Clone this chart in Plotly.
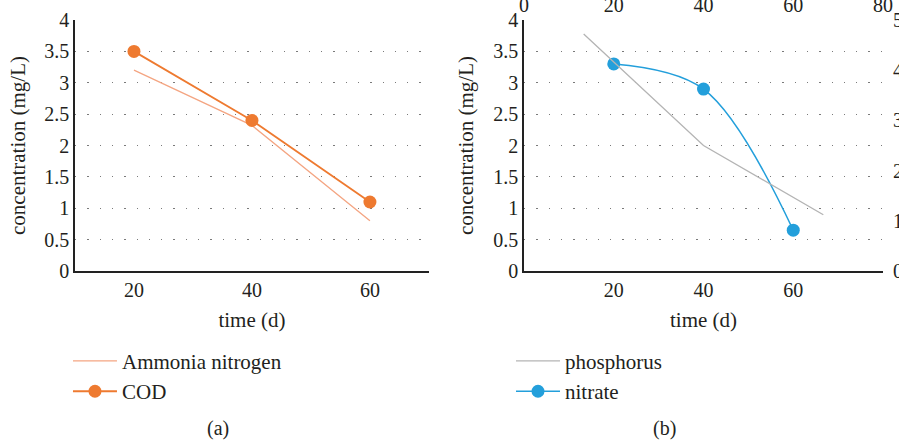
import plotly.graph_objects as go

# ---- data ----
days = [20, 40, 60]
ammonia_nitrogen = [3.2, 2.32, 0.8]
cod = [3.5, 2.4, 1.1]
nitrate = [3.3, 2.9, 0.65]
# phosphorus plotted on the secondary (top / right) axes
phos_x_top = [13.3, 40, 66.7]
phosphorus = [4.72, 2.5, 1.12]

bottom_ticks = [20, 40, 60]
top_ticks = [0, 20, 40, 60, 80]
left_ticks = [0, 0.5, 1, 1.5, 2, 2.5, 3, 3.5, 4]
left_labels = ["0", "0.5", "1", "1.5", "2", "2.5", "3", "3.5", "4"]
right_ticks = [0, 1, 2, 3, 4, 5]

FONT = "Liberation Serif"
TXT = "#231F20"
GRID = "#7a7a7a"
TICK_SIZE = 20
TITLE_SIZE = 21
LEG_SIZE = 21

fig = go.Figure()

fig.add_trace(go.Scatter(x=days, y=ammonia_nitrogen, mode="lines", name="Ammonia nitrogen",
                         line=dict(color="#F4A582", width=1.3), xaxis="x", yaxis="y", legend="legend"))
fig.add_trace(go.Scatter(x=days, y=cod, mode="lines+markers", name="COD",
                         line=dict(color="#EE7A30", width=1.8),
                         marker=dict(size=13, color="#EE7A30"), xaxis="x", yaxis="y", legend="legend"))
fig.add_trace(go.Scatter(x=phos_x_top, y=phosphorus, mode="lines", name="phosphorus",
                         line=dict(color="#B4B4B4", width=1.3), xaxis="x3", yaxis="y3", legend="legend2"))
fig.add_trace(go.Scatter(x=days, y=nitrate, mode="lines+markers", name="nitrate",
                         line=dict(color="#239FDB", width=1.5, shape="spline", smoothing=1),
                         marker=dict(size=13, color="#239FDB"), xaxis="x2", yaxis="y2", legend="legend2"))

axis_common = dict(showgrid=False, zeroline=False, ticks="", automargin=False,
                   tickfont=dict(family=FONT, size=TICK_SIZE, color=TXT))


def y_axis(standoff):
    return dict(range=[0, 4], tickvals=left_ticks, ticktext=left_labels, showgrid=True,
                gridcolor=GRID, griddash="1.3px,11px", gridwidth=1.3, zeroline=False, ticks="",
                showline=True, linecolor="#222", linewidth=1.5, automargin=False,
                tickfont=dict(family=FONT, size=TICK_SIZE, color=TXT),
                title=dict(text="concentration (mg/L)",
                           font=dict(family=FONT, size=TITLE_SIZE, color=TXT), standoff=standoff))


x_title = dict(text="time (d)", font=dict(family=FONT, size=TITLE_SIZE, color=TXT), standoff=13)

fig.update_layout(
    width=899, height=441,
    margin=dict(l=75, r=16, t=20, b=170, autoexpand=False),
    paper_bgcolor="white", plot_bgcolor="white",
    font=dict(family=FONT, size=TICK_SIZE, color=TXT),
    xaxis=dict(domain=[0, 0.438], range=[10, 70], tickvals=bottom_ticks, showline=True,
               linecolor="#222", linewidth=1.5, anchor="y", title=x_title, **axis_common),
    yaxis=dict(domain=[0, 1], anchor="x", **y_axis(13)),
    xaxis2=dict(domain=[0.5557, 1], range=[0, 80], tickvals=bottom_ticks, showline=True,
                linecolor="#222", linewidth=1.5, anchor="y2", title=x_title, **axis_common),
    yaxis2=dict(domain=[0, 1], anchor="x2", **y_axis(14)),
    xaxis3=dict(overlaying="x2", side="top", anchor="y2", range=[0, 80], tickvals=top_ticks,
                showline=False, ticklabelstandoff=3, **axis_common),
    yaxis3=dict(overlaying="y2", side="right", anchor="x2", range=[0, 5], tickvals=right_ticks,
                showline=False, ticklabelstandoff=9, **axis_common),
    legend=dict(x=-0.0087, y=-0.278, xanchor="left", yanchor="top", bgcolor="rgba(0,0,0,0)",
                font=dict(family=FONT, size=LEG_SIZE, color=TXT), tracegroupgap=0, itemwidth=44),
    legend2=dict(x=0.5396, y=-0.278, xanchor="left", yanchor="top", bgcolor="rgba(0,0,0,0)",
                 font=dict(family=FONT, size=LEG_SIZE, color=TXT), tracegroupgap=0, itemwidth=44),
    annotations=[
        dict(text="(a)", xref="paper", yref="paper", x=(205 - 75) / 808, y=(271 - 428) / 251,
             yanchor="middle", showarrow=False, font=dict(family=FONT, size=TICK_SIZE, color=TXT)),
        dict(text="(b)", xref="paper", yref="paper", x=(678 - 75) / 808, y=(271 - 428) / 251,
             yanchor="middle", showarrow=False, font=dict(family=FONT, size=TICK_SIZE, color=TXT)),
    ],
)

fig.write_html("out.html", config={"displayModeBar": False},
               post_script="document.body.style.margin='0px';")
